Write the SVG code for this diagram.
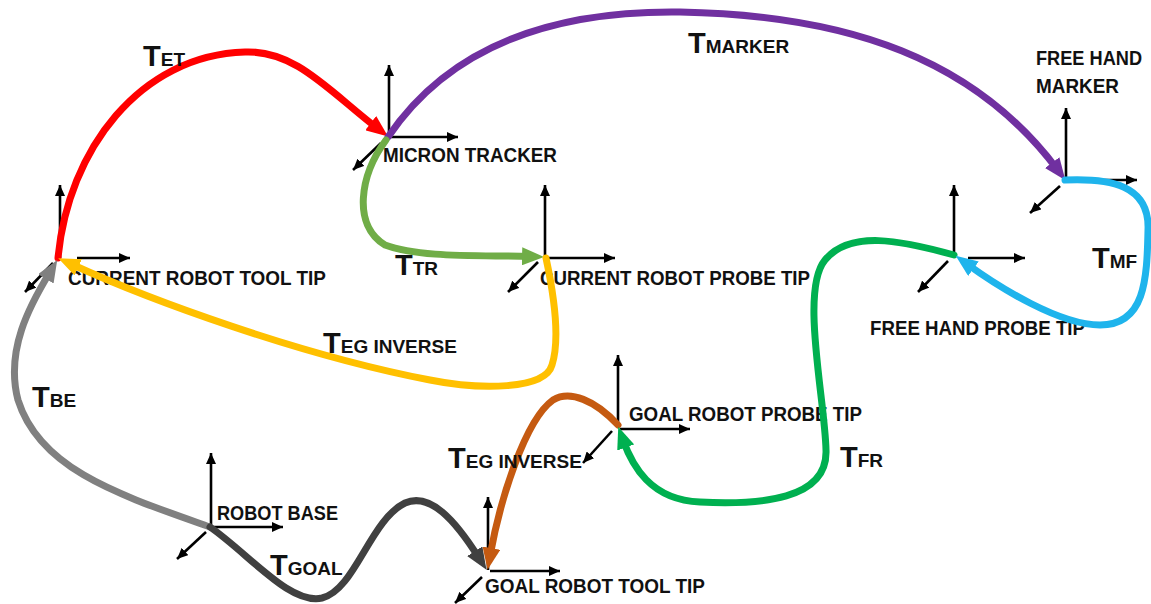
<svg xmlns="http://www.w3.org/2000/svg" width="1151" height="604" viewBox="0 0 1151 604">
  <style>
    .lbl { font-family: "Liberation Sans", Arial, sans-serif; font-weight: bold; font-size: 20px; fill: #111; }
    .tr { font-family: "Liberation Sans", Arial, sans-serif; font-weight: bold; font-size: 19px; fill: #111; }
    .big { font-size: 29px; }
    .axis { stroke: #000; stroke-width: 2.6; fill: none; marker-end: url(#ax); }
    .link { fill: none; stroke-width: 7; stroke-linecap: round; }
  </style>
  <defs>
    <marker id="ax" markerUnits="userSpaceOnUse" viewBox="0 0 11 10" refX="11" refY="5" markerWidth="11" markerHeight="10" orient="auto">
      <path d="M0,0 L11,5 L0,10 z" fill="#000"/>
    </marker>
    <marker id="hRed" markerUnits="userSpaceOnUse" viewBox="0 0 22 18" refX="8" refY="9" markerWidth="22" markerHeight="18" orient="auto">
      <path d="M0,0 L22,9 L0,18 z" fill="#FF0000"/>
    </marker>
    <marker id="hPurple" markerUnits="userSpaceOnUse" viewBox="0 0 22 18" refX="8" refY="9" markerWidth="22" markerHeight="18" orient="auto">
      <path d="M0,0 L22,9 L0,18 z" fill="#7030A0"/>
    </marker>
    <marker id="hLime" markerUnits="userSpaceOnUse" viewBox="0 0 22 18" refX="8" refY="9" markerWidth="22" markerHeight="18" orient="auto">
      <path d="M0,0 L22,9 L0,18 z" fill="#70AD47"/>
    </marker>
    <marker id="hYellow" markerUnits="userSpaceOnUse" viewBox="0 0 22 18" refX="8" refY="9" markerWidth="22" markerHeight="18" orient="auto">
      <path d="M0,0 L22,9 L0,18 z" fill="#FFC000"/>
    </marker>
    <marker id="hGray" markerUnits="userSpaceOnUse" viewBox="0 0 22 18" refX="8" refY="9" markerWidth="22" markerHeight="18" orient="auto">
      <path d="M0,0 L22,9 L0,18 z" fill="#808080"/>
    </marker>
    <marker id="hDark" markerUnits="userSpaceOnUse" viewBox="0 0 22 18" refX="8" refY="9" markerWidth="22" markerHeight="18" orient="auto">
      <path d="M0,0 L22,9 L0,18 z" fill="#404040"/>
    </marker>
    <marker id="hBrown" markerUnits="userSpaceOnUse" viewBox="0 0 22 18" refX="8" refY="9" markerWidth="22" markerHeight="18" orient="auto">
      <path d="M0,0 L22,9 L0,18 z" fill="#C55A11"/>
    </marker>
    <marker id="hGreen" markerUnits="userSpaceOnUse" viewBox="0 0 22 18" refX="8" refY="9" markerWidth="22" markerHeight="18" orient="auto">
      <path d="M0,0 L22,9 L0,18 z" fill="#00B050"/>
    </marker>
    <marker id="hBlue" markerUnits="userSpaceOnUse" viewBox="0 0 22 18" refX="8" refY="9" markerWidth="22" markerHeight="18" orient="auto">
      <path d="M0,0 L22,9 L0,18 z" fill="#1FB4EC"/>
    </marker>
  </defs>

  <rect width="1151" height="604" fill="#fff"/>

  <!-- coordinate frames -->
  <g id="current-robot-tool-tip">
    <line class="axis" x1="60" y1="258" x2="60" y2="185"/>
    <line class="axis" x1="77" y1="258" x2="130" y2="258"/>
    <line class="axis" x1="53" y1="263" x2="25" y2="292"/>
    <text class="lbl" x="68" y="285" textLength="258" lengthAdjust="spacingAndGlyphs">CURRENT ROBOT TOOL TIP</text>
  </g>
  <g id="micron-tracker">
    <line class="axis" x1="389" y1="137" x2="389" y2="65"/>
    <line class="axis" x1="389" y1="137" x2="458" y2="137"/>
    <line class="axis" x1="381" y1="143" x2="353" y2="170"/>
    <text class="lbl" x="383" y="162" textLength="174" lengthAdjust="spacingAndGlyphs">MICRON TRACKER</text>
  </g>
  <g id="current-robot-probe-tip">
    <line class="axis" x1="545" y1="257" x2="545" y2="185"/>
    <line class="axis" x1="546" y1="258" x2="615" y2="258"/>
    <line class="axis" x1="538" y1="262" x2="508" y2="292"/>
    <text class="lbl" x="540" y="285" textLength="270" lengthAdjust="spacingAndGlyphs">CURRENT ROBOT PROBE TIP</text>
  </g>
  <g id="free-hand-marker">
    <line class="axis" x1="1066" y1="180" x2="1066" y2="108"/>
    <line class="axis" x1="1066" y1="180" x2="1137" y2="180"/>
    <line class="axis" x1="1060" y1="186" x2="1030" y2="213"/>
    <text class="lbl" x="1036" y="65" textLength="106" lengthAdjust="spacingAndGlyphs">FREE HAND</text>
    <text class="lbl" x="1036" y="93" textLength="83" lengthAdjust="spacingAndGlyphs">MARKER</text>
  </g>
  <g id="free-hand-probe-tip">
    <line class="axis" x1="954" y1="255" x2="954" y2="185"/>
    <line class="axis" x1="968" y1="258" x2="1025" y2="258"/>
    <line class="axis" x1="948" y1="261" x2="918" y2="292"/>
    <text class="lbl" x="870" y="335" textLength="215" lengthAdjust="spacingAndGlyphs">FREE HAND PROBE TIP</text>
  </g>
  <g id="goal-robot-probe-tip">
    <line class="axis" x1="618" y1="425" x2="618" y2="355"/>
    <line class="axis" x1="620" y1="429" x2="690" y2="429"/>
    <line class="axis" x1="612" y1="431" x2="583" y2="463"/>
    <text class="lbl" x="629" y="421" textLength="233" lengthAdjust="spacingAndGlyphs">GOAL ROBOT PROBE TIP</text>
  </g>
  <g id="goal-robot-tool-tip">
    <line class="axis" x1="488" y1="570" x2="488" y2="497"/>
    <line class="axis" x1="490" y1="571" x2="560" y2="571"/>
    <line class="axis" x1="482" y1="577" x2="455" y2="603"/>
    <text class="lbl" x="485" y="593" textLength="220" lengthAdjust="spacingAndGlyphs">GOAL ROBOT TOOL TIP</text>
  </g>
  <g id="robot-base">
    <line class="axis" x1="211" y1="527" x2="211" y2="453"/>
    <line class="axis" x1="213" y1="527" x2="283" y2="527"/>
    <line class="axis" x1="206" y1="532" x2="177" y2="559"/>
    <text class="lbl" x="217" y="520" textLength="121" lengthAdjust="spacingAndGlyphs">ROBOT BASE</text>
  </g>

  <!-- transforms between frames -->
  <g id="connectors">
    <g id="t-et">
      <path class="link" stroke="#FF0000" marker-end="url(#hRed)" d="M58,258 C68,150 140,55 245,52 C295,50 328,90 377,128"/>
      <text class="tr" x="143" y="66"><tspan class="big">T</tspan>ET</text>
    </g>
    <g id="t-marker">
      <path class="link" stroke="#7030A0" marker-end="url(#hPurple)" d="M388,137 C440,60 530,10 680,12 C850,15 975,60 1057,169"/>
      <text class="tr" x="688" y="53"><tspan class="big">T</tspan>MARKER</text>
    </g>
    <g id="t-tr">
      <path class="link" stroke="#70AD47" marker-end="url(#hLime)" d="M386,140 C360,175 352,225 385,245 C420,258 480,255 530,256.5"/>
      <text class="tr" x="395" y="275"><tspan class="big">T</tspan>TR</text>
    </g>
    <g id="t-eg-inverse-current">
      <path class="link" stroke="#FFC000" marker-end="url(#hYellow)" d="M546,258 C555,300 560,340 552,365 C545,390 480,390 430,380 C300,355 150,300 71,264"/>
      <text class="tr" x="323" y="353"><tspan class="big">T</tspan>EG INVERSE</text>
    </g>
    <g id="t-be">
      <path class="link" stroke="#808080" marker-end="url(#hGray)" d="M210,527 C120,495 40,470 18,400 C5,350 30,305 50,272"/>
      <text class="tr" x="32" y="407"><tspan class="big">T</tspan>BE</text>
    </g>
    <g id="t-goal">
      <path class="link" stroke="#404040" marker-end="url(#hDark)" d="M210,527 C250,555 290,605 322,598 C355,590 370,520 405,503 C430,492 455,520 479,558"/>
      <text class="tr" x="270" y="575"><tspan class="big">T</tspan>GOAL</text>
    </g>
    <g id="t-eg-inverse-goal">
      <path class="link" stroke="#C55A11" marker-end="url(#hBrown)" d="M618,425 C595,400 570,390 553,400 C525,420 500,500 490,556"/>
      <text class="tr" x="448" y="468"><tspan class="big">T</tspan>EG INVERSE</text>
    </g>
    <g id="t-fr">
      <path class="link" stroke="#00B050" marker-end="url(#hGreen)" d="M954,255 C900,240 850,230 825,260 C800,290 825,400 826,450 C828,500 760,505 700,502 C650,500 632,465 623,440"/>
      <text class="tr" x="840" y="467"><tspan class="big">T</tspan>FR</text>
    </g>
    <g id="t-mf">
      <path class="link" stroke="#1FB4EC" marker-end="url(#hBlue)" d="M1065,180 C1110,178 1150,185 1148,230 C1147,280 1145,325 1100,325 C1060,325 1000,288 967,264"/>
      <text class="tr" x="1092" y="268"><tspan class="big">T</tspan>MF</text>
    </g>
  </g>
</svg>
